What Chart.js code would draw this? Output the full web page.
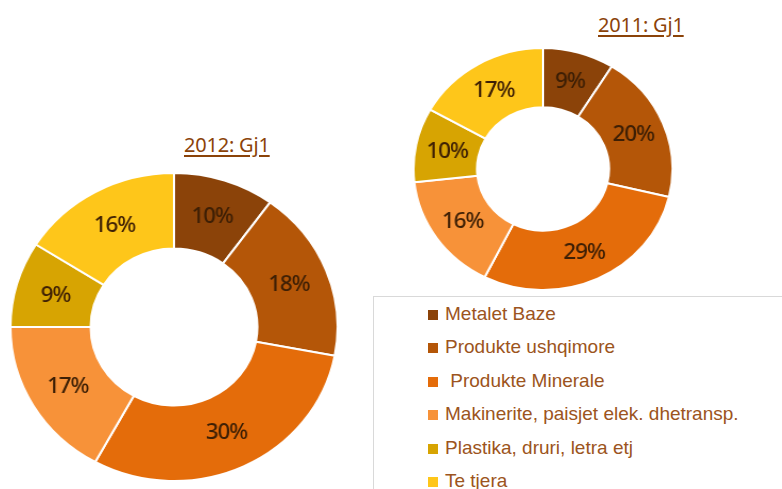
<!DOCTYPE html>
<html>
<head>
<meta charset="utf-8">
<script src="https://cdn.jsdelivr.net/npm/chart.js@4"></script>
<style>
  html, body { margin:0; padding:0; background:#fff; width:782px; height:489px; overflow:hidden; }
  .wrap { position:absolute; transform-origin:center center; }
  .title { position:absolute; font-family:"Noto Sans", sans-serif; font-size:20px; color:#8B4309;
           text-decoration:underline; text-decoration-thickness:2px; text-underline-offset:3px; white-space:nowrap; letter-spacing:-0.2px; }
  #legend { position:absolute; left:373px; top:296px; width:430px; height:220px; border:1px solid #D9D9D9; box-sizing:border-box; }
  .item { position:absolute; font-family:"Liberation Sans", Arial, sans-serif; font-size:19px; color:#9C5420; white-space:pre; letter-spacing:0px; }
  .sw { position:absolute; width:10px; height:10px; }
</style>
</head>
<body>
<div class="title" id="t2012" style="left:184px; top:131px;"></div>
<div class="title" id="t2011" style="left:598px; top:11px;"></div>
<div class="wrap" id="w2012" style="left:19px; top:172px; width:310px; height:310px; transform:scaleX(1.062);"><canvas id="c2012" width="310" height="310"></canvas></div>
<div class="wrap" id="w2011" style="left:421px; top:47px; width:244px; height:244px; transform:scaleX(1.07);"><canvas id="c2011" width="244" height="244"></canvas></div>
<div id="legend"></div>
<script>
const categories = ["Metalet Baze", "Produkte ushqimore", " Produkte Minerale", "Makinerite, paisjet elek. dhetransp.", "Plastika, druri, letra etj", "Te tjera"];
const values2012 = [10, 18, 30, 17, 9, 16];
const values2011 = [9, 20, 29, 16, 10, 17];
const titles = ["2012: Gj1", "2011: Gj1"];
const colors = ["#8B4309", "#B45608", "#E46C0A", "#F79239", "#D7A402", "#FEC61A"];

document.getElementById('t2012').textContent = titles[0];
document.getElementById('t2011').textContent = titles[1];

const labelPlugin = {
  id: 'pctLabels',
  afterDatasetsDraw(chart) {
    const ctx = chart.ctx;
    const meta = chart.getDatasetMeta(0);
    const data = chart.data.datasets[0].data;
    ctx.save();
    ctx.font = '500 21px "Noto Sans", "Open Sans", sans-serif';
    if ('letterSpacing' in ctx) ctx.letterSpacing = '-1px';
    ctx.fillStyle = '#3D1F05';
    ctx.textAlign = 'center';
    ctx.textBaseline = 'middle';
    meta.data.forEach((arc, i) => {
      const p = arc.tooltipPosition();
      ctx.fillText(data[i] + '%', p.x, p.y + 1);
    });
    ctx.restore();
  }
};

function makeChart(id, values) {
  return new Chart(document.getElementById(id), {
    type: 'doughnut',
    data: { labels: categories, datasets: [{ data: values, backgroundColor: colors, borderColor: '#ffffff', borderWidth: 2 }] },
    options: {
      responsive: false, animation: false, cutout: '51%',
      layout: { padding: 0 },
      plugins: { legend: { display: false }, tooltip: { enabled: false } }
    },
    plugins: [labelPlugin]
  });
}
makeChart('c2012', values2012);
makeChart('c2011', values2011);

const legend = document.getElementById('legend');
categories.forEach((c, i) => {
  const y = 18 + i * 33.4;
  const sw = document.createElement('div');
  sw.className = 'sw';
  sw.style.left = '54px';
  sw.style.top = (y - 5) + 'px';
  sw.style.background = colors[i];
  legend.appendChild(sw);
  const t = document.createElement('div');
  t.className = 'item';
  t.style.left = '71px';
  t.style.top = (y - 12) + 'px';
  t.textContent = c;
  legend.appendChild(t);
});
</script>
</body>
</html>
